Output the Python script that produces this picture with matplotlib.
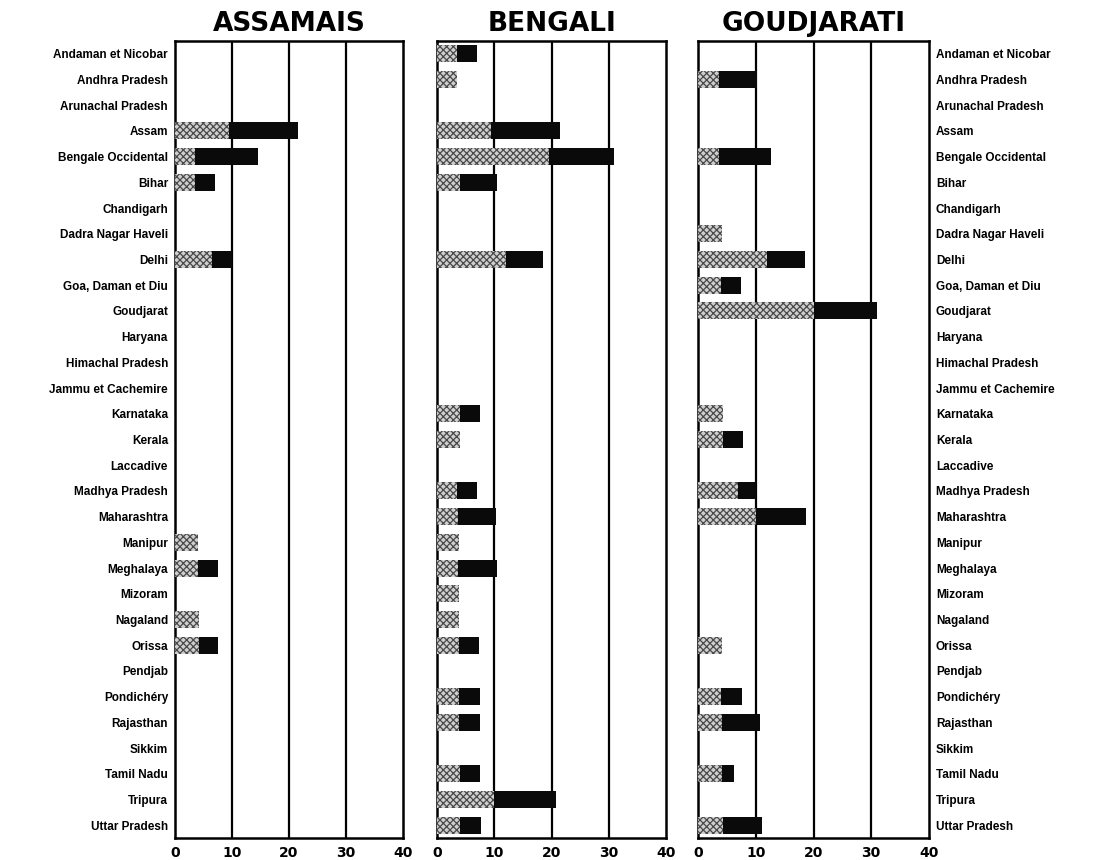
#!/usr/bin/env python3
"""Three-panel stacked horizontal bars: speakers per state, by language."""
import matplotlib

matplotlib.use("Agg")
import matplotlib.pyplot as plt

STATES = [
    "Andaman et Nicobar", "Andhra Pradesh", "Arunachal Pradesh", "Assam",
    "Bengale Occidental", "Bihar", "Chandigarh", "Dadra Nagar Haveli", "Delhi",
    "Goa, Daman et Diu", "Goudjarat", "Haryana", "Himachal Pradesh",
    "Jammu et Cachemire", "Karnataka", "Kerala", "Laccadive", "Madhya Pradesh",
    "Maharashtra", "Manipur", "Meghalaya", "Mizoram", "Nagaland", "Orissa",
    "Pendjab", "Pondichéry", "Rajasthan", "Sikkim", "Tamil Nadu", "Tripura",
    "Uttar Pradesh",
]
LANGUAGES = ["ASSAMAIS", "BENGALI", "GOUDJARATI"]

# light (stippled) segment and dark segment, per state
ASSAMAIS_LIGHT = [0, 0, 0, 9.5, 3.5, 3.5, 0, 0, 6.5, 0, 0, 0, 0, 0, 0, 0, 0, 0,
                  0, 4, 4, 0, 4.2, 4.2, 0, 0, 0, 0, 0, 0, 0]
ASSAMAIS_DARK = [0, 0, 0, 12, 11, 3.5, 0, 0, 3.5, 0, 0, 0, 0, 0, 0, 0, 0, 0,
                 0, 0, 3.5, 0, 0, 3.4, 0, 0, 0, 0, 0, 0, 0]

BENGALI_LIGHT = [3.5, 3.5, 0, 9.5, 19.5, 4, 0, 0, 12, 0, 0, 0, 0, 0, 4, 4, 0,
                 3.5, 3.6, 3.8, 3.7, 3.9, 3.9, 3.8, 0, 3.8, 3.8, 0, 4, 10, 4]
BENGALI_DARK = [3.5, 0, 0, 12, 11.5, 6.5, 0, 0, 6.5, 0, 0, 0, 0, 0, 3.5, 0, 0,
                3.5, 6.7, 0, 6.7, 0, 0, 3.6, 0, 3.7, 3.7, 0, 3.5, 10.8, 3.6]

GOUDJARATI_LIGHT = [0, 3.7, 0, 0, 3.7, 0, 0, 4.2, 12, 4, 20, 0, 0, 0, 4.3, 4.3,
                    0, 6.9, 10, 0, 0, 0, 0, 4.2, 0, 4, 4.2, 0, 4.2, 0, 4.3]
GOUDJARATI_DARK = [0, 6.5, 0, 0, 9, 0, 0, 0, 6.5, 3.5, 11, 0, 0, 0, 0, 3.5,
                   0, 3.1, 8.7, 0, 0, 0, 0, 0, 0, 3.6, 6.6, 0, 2.1, 0, 6.7]

XTICKS = [0, 10, 20, 30, 40]

LIGHT_FACE = "#cfcfcf"
LIGHT_HATCH = "#4a4a4a"
DARK = "#0a0a0a"

plt.rcParams.update({
    "font.family": ["Liberation Sans", "DejaVu Sans"],
    "hatch.linewidth": 0.9,
})

fig = plt.figure(figsize=(11.12, 8.6), dpi=100)
W, H = 1112, 860
panels = [(175, 403), (437, 666), (698, 929)]
top, bottom = 41, 838

series = [
    (ASSAMAIS_LIGHT, ASSAMAIS_DARK),
    (BENGALI_LIGHT, BENGALI_DARK),
    (GOUDJARATI_LIGHT, GOUDJARATI_DARK),
]

y = list(range(len(STATES)))
for i, ((x0, x1), (light, dark), name) in enumerate(zip(panels, series, LANGUAGES)):
    ax = fig.add_axes([x0 / W, 1 - bottom / H, (x1 - x0) / W, (bottom - top) / H])
    ax.barh(y, light, height=0.66, color=LIGHT_FACE, edgecolor=LIGHT_HATCH,
            hatch="xxxxx", linewidth=0, zorder=3)
    ax.barh(y, dark, left=light, height=0.66, color=DARK, linewidth=0, zorder=3)
    ax.set_xlim(0, 40)
    ax.set_ylim(len(STATES) - 0.5, -0.5)
    for g in (10, 20, 30):
        ax.axvline(g, color="black", linewidth=1.6, zorder=2)
    for s in ax.spines.values():
        s.set_linewidth(1.8)
    ax.set_xticks(XTICKS)
    ax.set_xticklabels([str(t) for t in XTICKS], fontsize=10, fontweight="bold",
                       family="DejaVu Sans")
    ax.tick_params(axis="x", length=0, pad=6)
    ax.tick_params(axis="y", length=0)
    ax.set_yticks(y)
    if i == 0:
        ax.set_yticklabels(STATES, fontsize=8.5, fontweight="bold")
        ax.tick_params(axis="y", pad=5)
    elif i == 2:
        ax.yaxis.tick_right()
        ax.set_yticklabels(STATES, fontsize=8.5, fontweight="bold")
        ax.tick_params(axis="y", length=0, pad=5)
    else:
        ax.set_yticklabels([])
    ax.set_title(name, fontsize=19, fontweight="bold", family="DejaVu Sans", pad=7)

fig.savefig("out.png", dpi=100)
